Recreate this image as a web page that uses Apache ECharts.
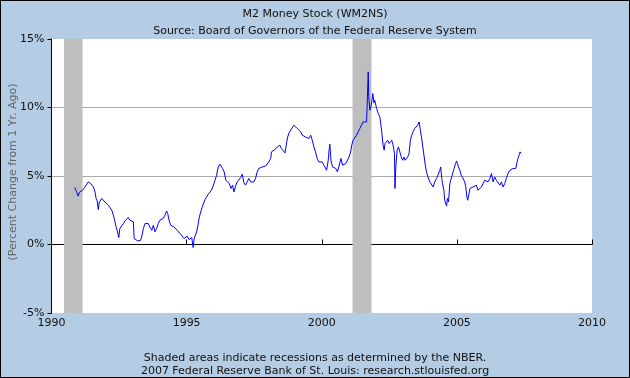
<!DOCTYPE html>
<html><head><meta charset="utf-8">
<script src="https://cdn.jsdelivr.net/npm/echarts@6/dist/echarts.min.js"></script>
<style>html,body{margin:0;padding:0;background:#B4CCE4;}#c{width:630px;height:378px;}</style>
</head><body><div id="c"></div>
<script>
const titleText = "M2 Money Stock (WM2NS)";
const subtitleText = "Source: Board of Governors of the Federal Reserve System";
const yAxisTitle = "(Percent Change from 1 Yr. Ago)";
const footer1 = "Shaded areas indicate recessions as determined by the NBER.";
const footer2 = "2007 Federal Reserve Bank of St. Louis: research.stlouisfed.org";
const xTicks = [1990, 1995, 2000, 2005, 2010];
const yTicks = [-5, 0, 5, 10, 15];
const recessionStart = [1990.46, 2001.14];
const recessionEnd = [1991.15, 2001.84];
const dates = [
1990.86,1990.93,1990.99,1991.03,1991.09,1991.15,1991.24,1991.30,1991.36,1991.40,1991.45,1991.50,1991.55,1991.61,1991.65,1991.69,1991.73,1991.77,1991.86,1991.92,1991.98,
1992.04,1992.10,1992.16,1992.23,1992.29,1992.35,1992.39,1992.43,1992.49,1992.53,1992.60,1992.66,1992.72,1992.78,1992.84,1992.90,1992.97,
1993.03,1993.06,1993.13,1993.19,1993.25,1993.30,1993.35,1993.40,1993.46,1993.52,1993.58,1993.64,1993.71,1993.77,1993.83,1993.89,1993.95,
1994.01,1994.08,1994.13,1994.20,1994.26,1994.30,1994.35,1994.41,1994.47,1994.53,1994.59,1994.65,1994.72,1994.78,1994.84,1994.90,1994.96,
1995.02,1995.09,1995.15,1995.19,1995.24,1995.28,1995.32,1995.37,1995.42,1995.47,1995.57,1995.68,1995.74,1995.80,1995.86,1995.92,1995.98,
1996.05,1996.11,1996.17,1996.23,1996.29,1996.33,1996.39,1996.45,1996.52,1996.58,1996.64,1996.70,1996.75,1996.81,1996.87,1996.93,
1997.00,1997.06,1997.12,1997.18,1997.24,1997.30,1997.37,1997.43,1997.49,1997.55,1997.61,1997.67,1997.74,1997.80,1997.86,1997.92,1997.98,
1998.04,1998.11,1998.14,1998.20,1998.27,1998.33,1998.39,1998.45,1998.51,1998.57,1998.64,1998.70,1998.74,1998.79,1998.85,1998.91,1998.97,
1999.03,1999.09,1999.15,1999.22,1999.28,1999.34,1999.40,1999.46,1999.52,1999.59,1999.65,1999.71,1999.77,1999.83,1999.89,1999.96,
2000.01,2000.08,2000.14,2000.18,2000.24,2000.27,2000.30,2000.34,2000.40,2000.46,2000.52,2000.58,2000.64,2000.71,2000.77,2000.83,2000.89,2000.95,
2001.01,2001.07,2001.11,2001.16,2001.22,2001.29,2001.35,2001.41,2001.47,2001.53,2001.59,2001.66,2001.68,2001.72,2001.74,2001.78,2001.82,2001.85,2001.89,2001.93,2001.96,
2002.03,2002.09,2002.15,2002.19,2002.22,2002.27,2002.31,2002.34,2002.40,2002.44,2002.49,2002.54,2002.59,2002.64,2002.69,2002.71,2002.74,2002.79,2002.84,2002.89,2002.94,2002.99,
2003.04,2003.08,2003.14,2003.18,2003.23,2003.28,2003.33,2003.38,2003.44,2003.51,2003.55,2003.60,2003.64,2003.69,2003.74,2003.79,2003.84,2003.89,2003.93,
2004.00,2004.06,2004.12,2004.18,2004.25,2004.30,2004.37,2004.40,2004.44,2004.47,2004.52,2004.55,2004.59,2004.62,2004.65,2004.69,2004.74,2004.77,2004.81,2004.86,2004.90,2004.95,2004.99,
2005.02,2005.06,2005.11,2005.16,2005.21,2005.26,2005.29,2005.33,2005.37,2005.40,2005.44,2005.48,2005.54,2005.60,2005.66,2005.72,2005.78,2005.85,2005.91,2005.97,
2006.03,2006.09,2006.15,2006.22,2006.28,2006.34,2006.40,2006.46,2006.52,2006.59,2006.65,2006.71,2006.77,2006.83,2006.89,2006.96,
2007.02,2007.08,2007.14,2007.18,2007.23,2007.26,2007.30,2007.34,2007.37
];
const values = [
4.16,3.84,3.53,3.80,3.90,3.96,4.20,4.30,4.57,4.64,4.45,4.50,4.20,3.84,3.36,3.18,2.55,3.10,3.36,3.47,3.10,
3.00,2.87,2.74,2.50,2.14,1.65,1.28,1.04,0.51,1.17,1.28,1.53,1.72,1.82,1.97,1.77,1.70,
1.65,0.44,0.31,0.26,0.12,0.31,0.68,1.17,1.53,1.58,1.53,1.28,1.04,1.41,0.92,1.17,1.53,
1.77,1.65,1.90,2.14,2.45,2.26,1.77,1.41,1.53,1.28,1.34,1.04,0.92,0.75,0.61,0.44,0.31,
0.61,0.36,0.31,0.51,-0.22,0.44,0.55,0.92,1.41,2.01,2.70,3.28,3.47,3.67,3.72,3.96,4.26,
4.69,5.06,5.66,5.86,5.91,5.55,5.30,4.69,4.82,4.45,4.09,4.33,3.84,4.26,4.57,4.69,
4.89,5.13,4.50,4.33,4.57,4.82,4.57,4.45,4.57,4.82,5.30,5.55,5.47,5.66,5.55,5.72,5.86,
6.03,6.28,6.76,6.64,6.93,7.08,7.12,7.25,7.00,6.88,6.69,7.42,7.85,8.15,8.34,8.47,8.71,
8.78,8.47,8.34,8.22,7.98,8.10,7.85,7.98,7.74,7.98,7.61,7.12,6.76,6.28,6.03,5.91,
6.03,5.79,5.66,5.42,6.15,6.88,7.32,6.15,5.66,5.79,5.55,5.30,5.72,6.28,5.79,5.66,5.91,6.03,
6.39,6.76,7.25,7.61,7.74,7.98,8.22,8.47,8.71,8.95,9.07,8.95,8.83,12.60,10.77,9.80,10.05,10.41,11.02,10.34,10.53,
9.93,9.56,9.31,8.71,8.22,7.25,6.88,7.37,7.49,7.61,7.37,7.49,7.61,7.25,6.64,4.09,5.66,6.88,7.12,6.76,6.39,6.15,
6.39,6.15,6.28,6.39,6.64,7.61,7.98,8.22,8.47,8.34,8.71,8.95,8.47,7.85,7.12,6.39,5.66,5.18,4.93,
4.57,4.45,4.20,4.57,4.82,4.93,5.42,5.66,4.82,4.45,3.96,3.23,3.36,2.80,3.36,3.10,4.45,4.69,4.93,5.30,5.55,5.91,6.10,
6.15,5.66,5.42,5.06,4.89,4.82,4.57,4.20,3.47,3.23,3.60,4.09,3.96,4.20,4.09,4.33,3.96,4.09,4.20,4.45,
4.69,4.82,4.57,4.82,5.18,4.57,4.93,4.69,4.82,4.33,4.57,4.20,4.45,4.82,5.18,5.42,
5.47,5.55,5.66,5.55,6.03,6.28,6.52,6.76,6.64
];

const font = "DejaVu Sans";
const chart = echarts.init(document.getElementById('c'), null, {renderer: 'canvas'});
const seriesData = dates.map((d, i) => [d, values[i]]);
const areas = recessionStart.map((s, i) => [{xAxis: s}, {xAxis: recessionEnd[i]}]);
chart.setOption({
  backgroundColor: '#B4CCE4',
  animation: false,
  title: [
    {text: titleText, left: 'center', top: 4, textStyle: {fontFamily: font, fontSize: 11, fontWeight: 'normal', color: '#111'}},
    {text: subtitleText, left: 'center', top: 21, textStyle: {fontFamily: font, fontSize: 11, fontWeight: 'normal', color: '#111'}},
    {text: footer1, left: 'center', top: 348, textStyle: {fontFamily: font, fontSize: 11, fontWeight: 'normal', color: '#111'}},
    {text: footer2, left: 'center', top: 361, textStyle: {fontFamily: font, fontSize: 11, fontWeight: 'normal', color: '#111'}}
  ],
  graphic: [
    {type: 'text', x: 13, y: 172, rotation: Math.PI / 2,
     style: {text: yAxisTitle, fontFamily: font, fontSize: 11, fill: '#666', align: 'center', verticalAlign: 'middle'}},
    {type: 'rect', shape: {x: 0.5, y: 0.5, width: 629, height: 377}, style: {fill: null, stroke: '#000', lineWidth: 1}, z: 100}
  ],
  grid: {left: 51.5, right: 38, top: 39, bottom: 65, show: true, backgroundColor: '#fff', borderWidth: 0},
  xAxis: {
    type: 'value', min: xTicks[0], max: xTicks[xTicks.length - 1], interval: 5,
    axisLine: {lineStyle: {color: '#000', width: 1}},
    axisTick: {inside: true, length: 5, lineStyle: {color: '#000'}},
    axisLabel: {fontFamily: font, fontSize: 11, color: '#111', margin: 5, formatter: v => String(v)},
    splitLine: {show: false}
  },
  yAxis: {
    type: 'value', min: yTicks[0], max: yTicks[yTicks.length - 1], interval: 5,
    axisLine: {show: true, lineStyle: {color: '#000', width: 1}},
    axisTick: {show: true, length: 4, lineStyle: {color: '#000'}},
    axisLabel: {fontFamily: font, fontSize: 11, color: '#111', margin: 7, formatter: '{value}%'},
    splitLine: {show: true, lineStyle: {color: ['rgba(0,0,0,0)', '#aaaaaa', '#aaaaaa', '#aaaaaa', 'rgba(0,0,0,0)'], width: 1}}
  },
  series: [{
    type: 'line', data: seriesData, showSymbol: false, symbol: 'none',
    lineStyle: {color: '#0000ff', width: 1}, z: 3,
    markArea: {silent: true, itemStyle: {color: '#bebebe'}, data: areas}
  }]
});
</script></body></html>
